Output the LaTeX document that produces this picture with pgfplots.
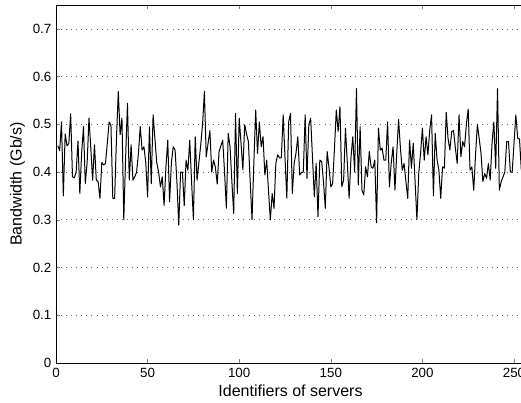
\documentclass[border=0pt]{standalone}
\usepackage{fontspec}
\setmainfont{Liberation Sans}
\usepackage{pgfplots}
\pgfplotsset{compat=1.18}
\usepackage{pgfplotstable}
\pgfplotstableread{
x y
1 0.455
2 0.445
3 0.505
4 0.350
5 0.480
6 0.455
7 0.460
8 0.522
9 0.390
10 0.388
11 0.400
12 0.465
13 0.355
14 0.440
15 0.495
16 0.376
17 0.420
18 0.513
19 0.450
20 0.383
21 0.457
22 0.383
23 0.380
24 0.345
25 0.420
26 0.415
27 0.418
28 0.460
29 0.505
30 0.498
31 0.345
32 0.345
33 0.470
34 0.569
35 0.478
36 0.513
37 0.300
38 0.430
39 0.544
40 0.383
41 0.457
42 0.383
43 0.390
44 0.400
45 0.440
46 0.495
47 0.446
48 0.453
49 0.420
50 0.348
51 0.495
52 0.376
53 0.520
54 0.470
55 0.420
56 0.400
57 0.369
58 0.390
59 0.330
60 0.410
61 0.467
62 0.338
63 0.420
64 0.453
65 0.446
66 0.380
67 0.289
68 0.400
69 0.400
70 0.330
71 0.425
72 0.404
73 0.467
74 0.380
75 0.300
76 0.474
77 0.383
78 0.420
79 0.457
80 0.500
81 0.569
82 0.432
83 0.460
84 0.487
85 0.400
86 0.425
87 0.410
88 0.375
89 0.443
90 0.455
91 0.467
92 0.400
93 0.324
94 0.481
95 0.453
96 0.380
97 0.313
98 0.523
99 0.355
100 0.513
101 0.460
102 0.405
103 0.499
104 0.480
105 0.464
106 0.380
107 0.300
108 0.420
109 0.530
110 0.439
111 0.505
112 0.453
113 0.474
114 0.394
115 0.425
116 0.360
117 0.300
118 0.355
119 0.324
120 0.418
121 0.436
122 0.430
123 0.430
124 0.520
125 0.430
126 0.345
127 0.505
128 0.523
129 0.355
130 0.418
131 0.440
132 0.474
133 0.394
134 0.399
135 0.400
136 0.520
137 0.387
138 0.499
139 0.513
140 0.430
141 0.348
142 0.418
143 0.306
144 0.425
145 0.422
146 0.380
147 0.324
148 0.443
149 0.410
150 0.369
151 0.376
152 0.450
153 0.530
154 0.485
155 0.537
156 0.369
157 0.383
158 0.492
159 0.420
160 0.345
161 0.430
162 0.474
163 0.400
164 0.575
165 0.373
166 0.495
167 0.362
168 0.352
169 0.411
170 0.390
171 0.443
172 0.411
173 0.408
174 0.425
175 0.294
176 0.492
177 0.446
178 0.450
179 0.425
180 0.425
181 0.505
182 0.369
183 0.420
184 0.453
185 0.362
186 0.440
187 0.510
188 0.450
189 0.404
190 0.418
191 0.380
192 0.345
193 0.467
194 0.408
195 0.460
196 0.380
197 0.300
198 0.397
199 0.440
200 0.492
201 0.425
202 0.474
203 0.436
204 0.488
205 0.520
206 0.350
207 0.481
208 0.425
209 0.404
210 0.345
211 0.411
212 0.408
213 0.525
214 0.470
215 0.446
216 0.485
217 0.487
218 0.450
219 0.418
220 0.520
221 0.432
222 0.464
223 0.453
224 0.500
225 0.532
226 0.404
227 0.411
228 0.362
229 0.436
230 0.500
231 0.470
232 0.439
233 0.380
234 0.397
235 0.387
236 0.418
237 0.383
238 0.460
239 0.505
240 0.408
241 0.575
242 0.362
243 0.380
244 0.390
245 0.400
246 0.464
247 0.464
248 0.400
249 0.400
250 0.460
251 0.520
252 0.471
253 0.469
254 0.404
255 0.430
256 0.450
}\bwdata
\begin{document}
\begin{tikzpicture}
\begin{axis}[
  scale only axis,
  width=351.75pt, height=268.5pt,
  xmin=0, xmax=256, ymin=0, ymax=0.75,
  xtick={0,50,100,150,200,250},
  ytick={0,0.1,0.2,0.3,0.4,0.5,0.6,0.7},
  yticklabel style={/pgf/number format/fixed, /pgf/number format/precision=1},
  /pgf/number format/assume math mode=true,
  tick label style={font=\fontsize{10}{11}\selectfont},
  label style={font=\fontsize{12}{13}\selectfont},
  tick align=inside,
  major tick length=3pt,
  axis line style={line width=0.6pt},
  ymajorgrids,
  grid style={black!60, line width=0.5pt, dash pattern=on 0.6pt off 3.2pt},
  xlabel={Identifiers of servers},
  ylabel={Bandwidth (Gb/s)},
  xlabel style={yshift=1pt},
  ylabel style={yshift=-1pt},
  clip=true,
]
\addplot[black, line width=0.75pt, line join=round] table[x=x, y=y] {\bwdata};
\coordinate (O) at (rel axis cs:0,0);
\end{axis}
\pgfresetboundingbox
\path[use as bounding box] (O) ++(-42pt,-30pt) rectangle ++(390.75pt,302.25pt);
\end{tikzpicture}
\end{document}
